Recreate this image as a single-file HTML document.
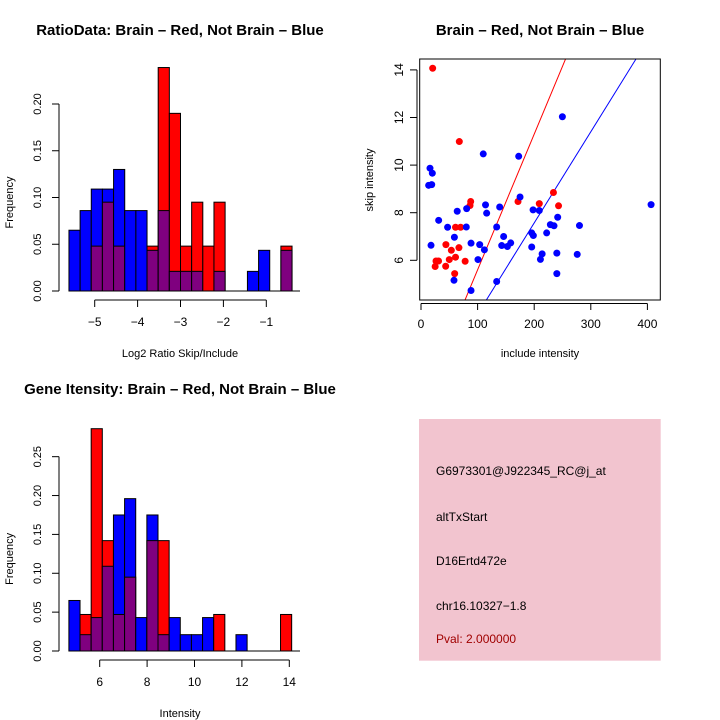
<!DOCTYPE html>
<html><head><meta charset="utf-8"><style>
body{margin:0;background:#fff}
svg{display:block;font-family:"Liberation Sans",sans-serif}
</style></head><body>
<svg id="c" width="720" height="720" viewBox="0 0 720 720"></svg>
<script>
// Histogram 1: log2 ratio
const ratioBinStart = -5.6;
const ratioBinStep = 0.26;
const ratioBlue = [0.065,0.086,0.109,0.109,0.130,0.086,0.086,0.0435,0.086,0.021,0.021,0.021,0,0.021,0,0,0.021,0.0435,0,0.0435];
const ratioRed  = [0,0,0.048,0.095,0.048,0,0,0.048,0.239,0.190,0.048,0.095,0.048,0.095,0,0,0,0,0,0.048];
const ratioXTicks = [-5,-4,-3,-2,-1];
const ratioYTicks = [0,0.05,0.10,0.15,0.20];
// Histogram 2: gene intensity
const intBinStart = 4.7;
const intBinStep = 0.47;
const intBlue = [0.065,0.021,0.043,0.109,0.175,0.196,0.043,0.175,0.021,0.043,0.021,0.021,0.043,0,0,0.021,0,0,0,0];
const intRed  = [0,0.047,0.286,0.142,0.047,0.095,0,0.142,0.142,0,0,0,0,0.047,0,0,0,0,0,0.047];
const intXTicks = [6,8,10,12,14];
const intYTicks = [0,0.05,0.10,0.15,0.20,0.25];
// Scatter
const redX = [20.6,67.7,61,70,86.6,87.8,44,53.6,67,61,50,78,26.5,31,25,43.6,59.5,171.4,209,234,243];
const redY = [14.07,10.99,7.39,7.39,8.3,8.47,6.66,6.42,6.53,6.13,6.03,5.96,5.97,5.97,5.74,5.75,5.44,8.47,8.38,8.85,8.29];
const blueX = [13.5,18.9,15.9,20,17.7,31.2,47,59,58.3,64,80.7,80,88.4,88.4,100.7,103.7,112,110,114,116,133.7,133.7,139,142.6,146,152.6,158.5,172.6,175,195.6,195.6,198.5,198,209,211,214,222,228.6,235,241.5,240,240,249.8,276,280,406.5];
const blueY = [9.15,9.18,9.87,9.66,6.63,7.68,7.39,6.97,5.16,8.06,8.17,7.40,6.72,4.73,6.03,6.66,6.44,10.47,8.33,7.98,7.40,5.11,8.24,6.62,7.00,6.58,6.73,10.37,8.66,7.15,6.56,7.04,8.12,8.09,6.04,6.27,7.15,7.5,7.45,7.81,6.30,5.44,12.03,6.25,7.46,8.34];
const redLine = [-0.10,0.057];   // intercept, slope
const blueLine = [-0.09,0.0383];
const scatXTicks = [0,100,200,300,400];
const scatYTicks = [6,8,10,12,14];

const svg=document.getElementById('c');
const NS='http://www.w3.org/2000/svg';
function mk(tag,attrs,parent){const e=document.createElementNS(NS,tag);for(const k in attrs)e.setAttribute(k,attrs[k]);(parent||svg).appendChild(e);return e;}
function txt(s,x,y,attrs){const e=mk('text',Object.assign({x:x,y:y,'font-size':12,'text-anchor':'middle',fill:'#000'},attrs||{}));e.textContent=s;return e;}

function hist(name,blue,red,start,step,xsc,ysc,base,xTicks,yTicks,axisY,title,titleY,xlab,xlabY){
  const g=mk('g',{});
  
  
  for(let i=0;i<blue.length;i++){
    const x0=xsc(start+i*step), x1=xsc(start+(i+1)*step);
    const b=blue[i], r=red[i], hi=Math.max(b,r), lo=Math.min(b,r);
    if(hi>0){
      const bar=mk('rect',{x:x0,y:ysc(hi),width:x1-x0,height:ysc(0)-ysc(hi),fill:b>=r?'#0000ff':'#ff0000',stroke:'#000','stroke-width':1},g);
      
      
    }
    if(lo>0){
      const ov=mk('rect',{x:x0,y:ysc(lo),width:x1-x0,height:ysc(0)-ysc(lo),fill:'#7f007f',stroke:'#000','stroke-width':1},g);
      
      
    }
  }
  mk('line',{x1:xsc(start),x2:300,y1:ysc(0),y2:ysc(0),stroke:'#000','stroke-width':1},g);
  mk('line',{x1:59,x2:59,y1:ysc(yTicks[0]),y2:ysc(yTicks[yTicks.length-1]),stroke:'#000'},g);
  yTicks.forEach(v=>{mk('line',{x1:52,x2:59,y1:ysc(v),y2:ysc(v),stroke:'#000'},g);
    const t=txt(v.toFixed(2),0,0,{transform:`translate(41,${ysc(v)}) rotate(-90)`,'font-size':11});
    });
  mk('line',{x1:xsc(xTicks[0]),x2:xsc(xTicks[xTicks.length-1]),y1:axisY,y2:axisY,stroke:'#000'},g);
  xTicks.forEach(v=>{mk('line',{x1:xsc(v),x2:xsc(v),y1:axisY,y2:axisY+7,stroke:'#000'},g);
    const t=txt(String(v).replace('-','\u2212'),xsc(v),axisY+26,{'font-size':12});
    });
  const tt=txt(title,180,titleY,{'font-weight':'bold','font-size':15});
  
  const xl=txt(xlab,180,xlabY,{'font-size':11});
  
  const yl=txt('Frequency',0,0,{transform:`translate(13,${(ysc(0)+ysc(yTicks[yTicks.length-1]))/2+5}) rotate(-90)`,'font-size':11});
  
}
hist('ratio-histogram',ratioBlue,ratioRed,ratioBinStart,ratioBinStep,
  v=>94.7+(v+5)*42.9, v=>291-v*935, 291, ratioXTicks, ratioYTicks, 300,
  'RatioData: Brain \u2013 Red, Not Brain \u2013 Blue',35,'Log2 Ratio Skip/Include',357);
hist('intensity-histogram',intBlue,intRed,intBinStart,intBinStep,
  v=>99.7+(v-6)*23.7, v=>651-v*777.3, 651, intXTicks, intYTicks, 660,
  'Gene Itensity: Brain \u2013 Red, Not Brain \u2013 Blue',394,'Intensity',717);

// scatter
const sx=v=>421+v*0.566, sy=v=>260.3-(v-6)*23.8;
const sg=mk('g',{});


const cp=mk('clipPath',{id:'clp'},sg);
mk('rect',{x:419.7,y:59,width:240.6,height:241},cp);
function ab(l,col,nm){const x1=-10,x2=450;const ln=mk('line',{x1:sx(x1),y1:sy(l[0]+l[1]*x1),x2:sx(x2),y2:sy(l[0]+l[1]*x2),stroke:col,'stroke-width':1,'clip-path':'url(#clp)'},sg);
  }
ab(redLine,'#ff0000','red-fit-line');ab(blueLine,'#0000ff','blue-fit-line');
redX.forEach((x,i)=>{const c=mk('circle',{cx:sx(x),cy:sy(redY[i]),r:3.5,fill:'#ff0000'},sg);
  });
blueX.forEach((x,i)=>{const c=mk('circle',{cx:sx(x),cy:sy(blueY[i]),r:3.5,fill:'#0000ff'},sg);
  });
mk('rect',{x:419.7,y:59,width:240.6,height:241,fill:'none',stroke:'#000'},sg);
mk('line',{x1:sx(0),x2:sx(400),y1:303.5,y2:303.5,stroke:'#000'},sg);
scatXTicks.forEach(v=>{mk('line',{x1:sx(v),x2:sx(v),y1:303.5,y2:310,stroke:'#000'},sg);
  const t=txt(String(v),sx(v),328,{'font-size':12});});
mk('line',{x1:417,x2:417,y1:sy(6),y2:sy(14),stroke:'#000'},sg);
scatYTicks.forEach(v=>{mk('line',{x1:410,x2:417,y1:sy(v),y2:sy(v),stroke:'#000'},sg);
  const t=txt(String(v),0,0,{transform:`translate(403,${sy(v)}) rotate(-90)`,'font-size':12});});
let t=txt('Brain \u2013 Red, Not Brain \u2013 Blue',540,35,{'font-weight':'bold','font-size':15});

t=txt('include intensity',540,357,{'font-size':11});

t=txt('skip intensity',0,0,{transform:'translate(373,180) rotate(-90)','font-size':11});


// info box
const ib=mk('g',{});


mk('rect',{x:419,y:419,width:241.7,height:241.7,fill:'#f2c4cf'},ib);
[['G6973301@J922345_RC@j_at',475,'#000','probe-id'],['altTxStart',521,'#000','event-type'],['D16Ertd472e',565,'#000','gene-name'],['chr16.10327\u22121.8',610,'#000','location'],['Pval: 2.000000',643,'#a00000','pvalue']].forEach(a=>{
  const e=txt(a[0],436,a[1],{'text-anchor':'start','font-size':12,fill:a[2]});
  });
</script>
</body></html>
